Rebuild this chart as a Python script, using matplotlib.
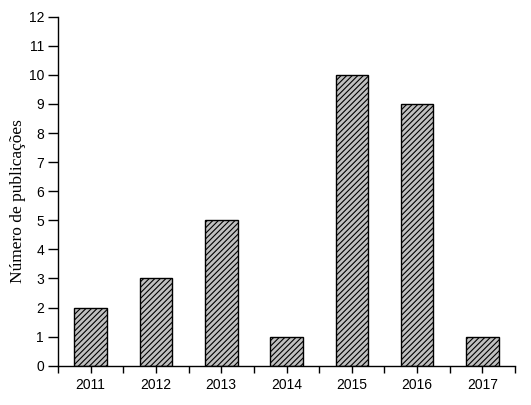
import matplotlib
matplotlib.use("Agg")
import matplotlib.pyplot as plt
import numpy as np

years = ["2011", "2012", "2013", "2014", "2015", "2016", "2017"]
counts = [2, 3, 5, 1, 10, 9, 1]
y_ticks = list(range(0, 13))
y_label = "Número de publicações"

plt.rcParams['hatch.color'] = '#1a1a1a'
plt.rcParams['hatch.linewidth'] = 0.8

fig = plt.figure(figsize=(5.31, 4.05), dpi=100)
ax = fig.add_axes([0.1092, 0.097, 0.8608, 0.8618])

x = np.arange(len(years))
ax.bar(x, counts, width=0.5, color='#c0c0c0', edgecolor='black',
       linewidth=1.0, hatch='//////')

ax.set_xlim(-0.5, len(years) - 0.5)
ax.set_ylim(0, 12)
ax.set_xticks(x)
ax.set_xticklabels(years, fontfamily='Liberation Sans', fontsize=10)
ax.set_xticks(np.arange(-0.5, len(years)), minor=True)
ax.set_yticks(y_ticks)
ax.set_yticklabels([str(v) for v in y_ticks], fontfamily='Liberation Sans', fontsize=10)

ax.spines['top'].set_visible(False)
ax.spines['right'].set_visible(False)
for s in ['left', 'bottom']:
    ax.spines[s].set_linewidth(1.0)

ax.tick_params(axis='y', which='major', direction='out', length=7, width=1.0, pad=3)
ax.tick_params(axis='x', which='major', direction='out', length=5, width=1.0, pad=4)
ax.tick_params(axis='x', which='minor', direction='out', length=5, width=1.0)
ax.tick_params(axis='y', which='minor', left=False)

ax.set_ylabel(y_label, fontfamily='Liberation Serif', fontsize=12.5)
ax.yaxis.set_label_coords(-0.071, 0.471)

fig.savefig("out.png", dpi=100)
